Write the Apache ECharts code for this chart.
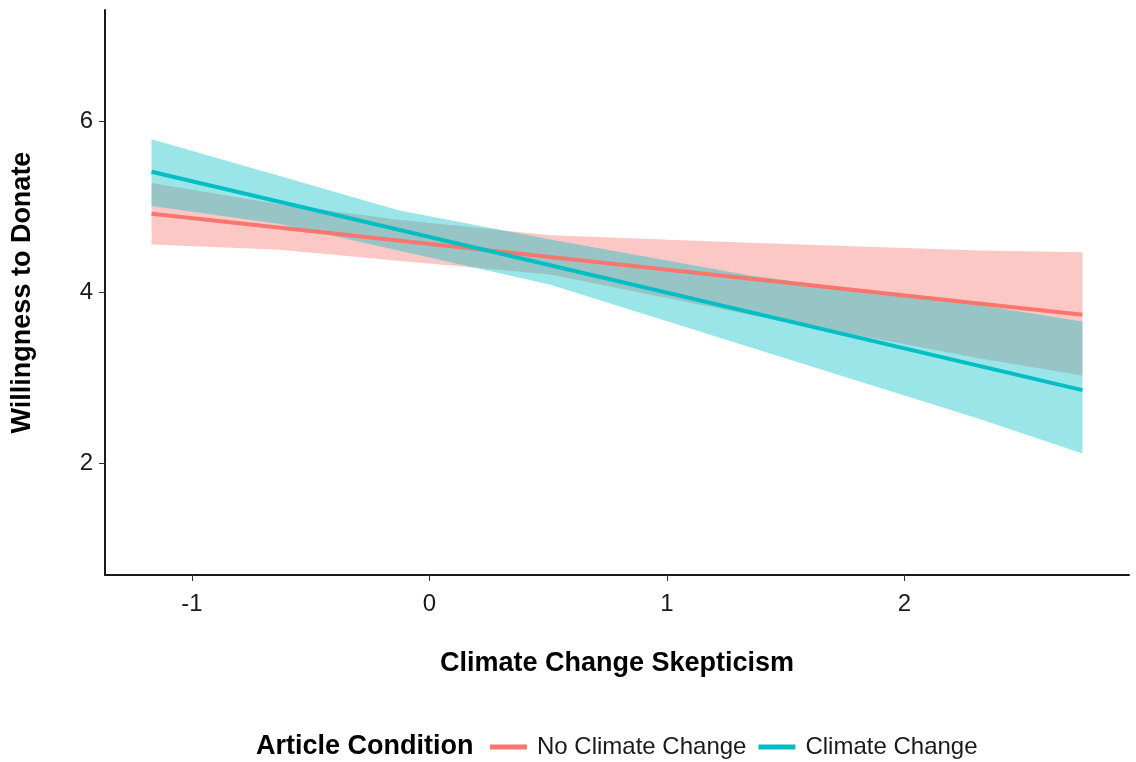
<!DOCTYPE html>
<html>
<head>
<meta charset="utf-8">
<title>Willingness to Donate by Climate Change Skepticism</title>
<script src="https://cdn.jsdelivr.net/npm/echarts@6/dist/echarts.min.js"></script>
<style>
  html, body { margin: 0; padding: 0; background: #ffffff; }
  #chart { width: 1136px; height: 762px; }
</style>
</head>
<body>
<div id="chart"></div>
<script>
// Fitted lines: skepticism at the ends of the observed range and predicted willingness
const fitX = [-1.17, 2.75];
const noClimateFit = [4.92, 3.74];
const climateFit = [5.41, 2.86];

// Confidence bands, sampled along skepticism
const bandX = [-1.17, -0.63, -0.13, 0.51, 1.35, 2.32, 2.75];
const noClimateLower = [4.56, 4.50, 4.37, 4.21, 3.74, 3.23, 3.03];
const noClimateUpper = [5.28, 5.03, 4.85, 4.67, 4.58, 4.49, 4.47];
const climateLower = [5.01, 4.80, 4.49, 4.09, 3.36, 2.52, 2.12];
const climateUpper = [5.79, 5.36, 4.96, 4.62, 4.20, 3.85, 3.66];

// Axis ticks and labels
const xTicks = [-1, 0, 1, 2];
const yTicks = [2, 4, 6];
const groupNames = ['No Climate Change', 'Climate Change'];
const groupColors = ['#F8766D', '#00BFC4'];

const FONT = '"Liberation Sans", Arial, sans-serif';

function bandRows(lower, upper) {
  return bandX.map((x, i) => [x, lower[i], upper[i]]);
}

function bandSeries(name, lower, upper, color) {
  return {
    name: name,
    type: 'custom',
    silent: true,
    data: bandRows(lower, upper),
    encode: { x: 0, y: [1, 2] },
    renderItem: function (params, api) {
      if (params.dataIndex !== 0) return;
      const pts = [];
      for (let i = 0; i < bandX.length; i++) pts.push(api.coord([bandX[i], upper[i]]));
      for (let i = bandX.length - 1; i >= 0; i--) pts.push(api.coord([bandX[i], lower[i]]));
      return {
        type: 'polygon',
        shape: { points: pts },
        style: { fill: color, opacity: 0.4 }
      };
    }
  };
}

function lineSeries(name, values, color) {
  return {
    name: name,
    type: 'line',
    color: color,
    silent: true,
    showSymbol: false,
    data: fitX.map((x, i) => [x, values[i]]),
    lineStyle: { color: color, width: 4 },
    itemStyle: { color: color }
  };
}

const chart = echarts.init(document.getElementById('chart'), null, { renderer: 'canvas' });

chart.setOption({
  animation: false,
  backgroundColor: '#ffffff',
  textStyle: { fontFamily: FONT },
  grid: { left: 105, right: 7, top: 10, bottom: 187, containLabel: false },
  xAxis: {
    type: 'value',
    min: -1.366,
    max: 2.946,
    name: 'Climate Change Skepticism',
    nameLocation: 'middle',
    nameGap: 75,
    nameTextStyle: { fontFamily: FONT, fontSize: 27, fontWeight: 'bold', color: '#000000' },
    axisLine: { show: true, onZero: false, lineStyle: { color: '#1a1a1a', width: 2 } },
    axisTick: { show: true, length: 6, customValues: xTicks, lineStyle: { color: '#333333', width: 1 } },
    axisLabel: { customValues: xTicks, margin: 17, fontFamily: FONT, fontSize: 24, color: '#1a1a1a' },
    splitLine: { show: false }
  },
  yAxis: {
    type: 'value',
    min: 0.7,
    max: 7.3,
    name: 'Willingness to Donate',
    nameLocation: 'middle',
    nameGap: 69,
    nameTextStyle: { fontFamily: FONT, fontSize: 27, fontWeight: 'bold', color: '#000000' },
    axisLine: { show: true, onZero: false, lineStyle: { color: '#1a1a1a', width: 2 } },
    axisTick: { show: true, length: 6, customValues: yTicks, lineStyle: { color: '#333333', width: 1 } },
    axisLabel: { customValues: yTicks, margin: 12, fontFamily: FONT, fontSize: 24, color: '#1a1a1a' },
    splitLine: { show: false }
  },
  title: {
    text: 'Article Condition',
    left: 256,
    top: 733,
    padding: 0,
    textStyle: { fontFamily: FONT, fontSize: 27, fontWeight: 'bold', color: '#000000' }
  },
  legend: {
    data: groupNames,
    left: 490,
    top: 735,
    padding: 0,
    icon: 'rect',
    itemWidth: 37,
    itemHeight: 5,
    itemGap: 12,
    selectedMode: false,
    textStyle: { fontFamily: FONT, fontSize: 24, color: '#1a1a1a', padding: [0, 0, 0, 5] }
  },
  series: [
    bandSeries('No Climate Change band', noClimateLower, noClimateUpper, groupColors[0]),
    lineSeries(groupNames[0], noClimateFit, groupColors[0]),
    bandSeries('Climate Change band', climateLower, climateUpper, groupColors[1]),
    lineSeries(groupNames[1], climateFit, groupColors[1])
  ]
});
</script>
</body>
</html>
